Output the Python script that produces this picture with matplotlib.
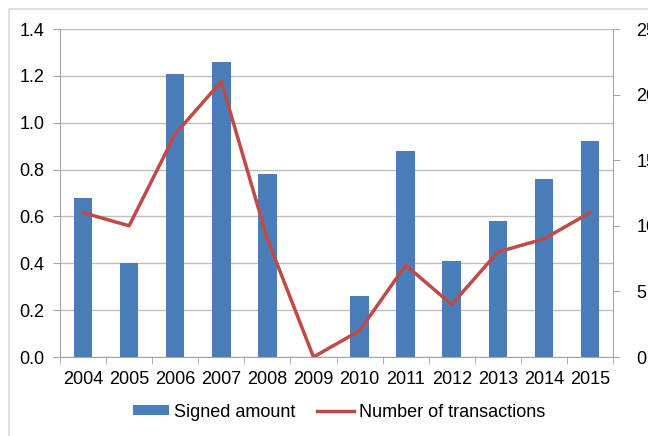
import matplotlib.pyplot as plt
from matplotlib.patches import Rectangle
import numpy as np

plt.rcParams['font.family'] = ['Liberation Sans', 'DejaVu Sans']

years = ['2004', '2005', '2006', '2007', '2008', '2009',
         '2010', '2011', '2012', '2013', '2014', '2015']
signed_amount = [0.68, 0.40, 1.21, 1.26, 0.78, 0.0,
                 0.26, 0.88, 0.41, 0.58, 0.76, 0.92]
transactions = [11, 10, 17, 21, 9, 0, 2, 7, 4, 8, 9, 11]

bar_color = '#4a7ebb'
line_color = '#be4b48'
axis_grey = '#a6a6a6'

fig = plt.figure(figsize=(6.48, 4.36), dpi=100)
# outer chart border
fig.patches.append(Rectangle((9 / 648, -0.1), 1.0, 1 - 9 / 436 + 0.1,
                             transform=fig.transFigure, fill=False,
                             edgecolor='#d9d9d9', linewidth=1.2))

ax = fig.add_axes([60 / 648, 1 - 357 / 436, 553 / 648, 328 / 436])
x = np.arange(len(years))
bars = ax.bar(x, signed_amount, width=0.4, color=bar_color, zorder=2,
              label='Signed amount')
ax.set_xlim(-0.5, len(years) - 0.5)
ax.set_ylim(0, 1.4)
ax.set_yticks(np.arange(0, 1.41, 0.2))
ax.set_yticklabels([f'{v:.1f}' for v in np.arange(0, 1.41, 0.2)])
ax.set_xticks(x)
ax.set_xticklabels(years)
ax.set_xticks(np.arange(-0.5, len(years), 1), minor=True)
ax.tick_params(axis='x', which='major', length=0, pad=10, labelsize=13)
ax.tick_params(axis='x', which='minor', length=5, color=axis_grey)
ax.tick_params(axis='y', length=5, color=axis_grey, pad=6, labelsize=13)
ax.grid(axis='y', color='#bfbfbf', linewidth=1, zorder=0)
ax.set_axisbelow(True)
for side in ['top', 'right']:
    ax.spines[side].set_visible(False)
for side in ['left', 'bottom']:
    ax.spines[side].set_color(axis_grey)

ax2 = ax.twinx()
line, = ax2.plot(x, transactions, color=line_color, linewidth=2.5,
                 label='Number of transactions', zorder=3)
ax2.set_ylim(0, 25)
ax2.set_yticks([0, 5, 10, 15, 20, 25])
ax2.tick_params(axis='y', length=5, color=axis_grey, pad=12, labelsize=13)
for side in ['top', 'left', 'bottom']:
    ax2.spines[side].set_visible(False)
ax2.spines['right'].set_color(axis_grey)

fig.legend([bars, line], ['Signed amount', 'Number of transactions'],
           loc='center', bbox_to_anchor=(339 / 648, 1 - 412 / 436), ncol=2,
           frameon=False, fontsize=13, handlelength=2.0, handletextpad=0.28,
           handleheight=0.5, columnspacing=1.2)

fig.savefig('out.png', dpi=100)
